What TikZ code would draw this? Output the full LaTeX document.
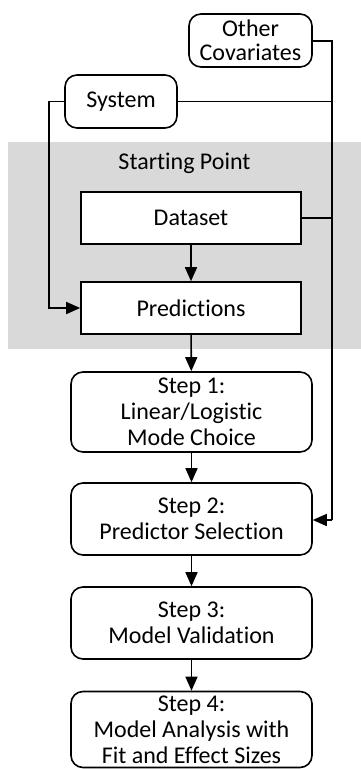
\documentclass[tikz,border=0pt]{standalone}
\usepackage{fontspec}
\setmainfont{Carlito}[Ligatures={NoCommon}]
\usetikzlibrary{arrows.meta}
\definecolor{bggray}{RGB}{217,217,217}
\begin{document}
\begin{tikzpicture}[x=1pt,y=-1pt,
  every node/.style={font=\fontsize{24}{26}\selectfont, align=center, inner sep=0pt},
  rbox/.style={draw, line width=1.6pt, rounded corners=12pt, fill=white},
  sbox/.style={draw, line width=1.6pt, fill=white},
  conn/.style={line width=1.6pt},
  arr/.style={line width=1.6pt, -{Triangle[length=14pt,width=12pt]}}]
\useasboundingbox (0,0) rectangle (361,769);
\fill[bggray] (8,142) rectangle (361,349);
\node (sp) at (184.5,163) {Starting Point};
\node[rbox, minimum width=123pt, minimum height=53pt] (oc) at (250.5,40.5) {Other\\[-2pt]Covariates};
\node[rbox, minimum width=112pt, minimum height=53pt] (sys) at (121,101.5) {System};
\node[sbox, minimum width=220pt, minimum height=52pt] (ds) at (191,218) {Dataset};
\node[sbox, minimum width=220pt, minimum height=52pt] (pr) at (191,308) {Predictions};
\node[rbox, minimum width=241pt, minimum height=80pt] (s1) at (191.5,412) {Step 1:\\Linear/Logistic\\Mode Choice};
\node[rbox, minimum width=241pt, minimum height=72pt] (s2) at (191.5,519) {Step 2:\\Predictor Selection};
\node[rbox, minimum width=241pt, minimum height=72pt] (s3) at (191.5,623) {Step 3:\\Model Validation};
\node[rbox, minimum width=241pt, minimum height=76pt] (s4) at (191.5,729.5) {Step 4:\\Model Analysis with\\Fit and Effect Sizes};
\coordinate (rt) at (332,41);
\coordinate (rb) at (332,520);
\coordinate (lt) at (49,101.5);
\coordinate (lb) at (49,308);
\draw[conn] (oc.east |- rt) -- (rt) -- (rb);
\draw[arr] (rb) -- (s2.east |- rb);
\draw[conn] (sys.east) -- (sys.east -| rt);
\draw[conn] (ds.east) -- (ds.east -| rt);
\draw[arr] (sys.west) -- (lt) -- (lb) -- (pr.west);
\draw[arr] (ds) -- (pr);
\draw[arr] (pr) -- (s1);
\draw[arr] (s1) -- (s2);
\draw[arr] (s2) -- (s3);
\draw[arr] (s3) -- (s4);
\end{tikzpicture}
\end{document}
